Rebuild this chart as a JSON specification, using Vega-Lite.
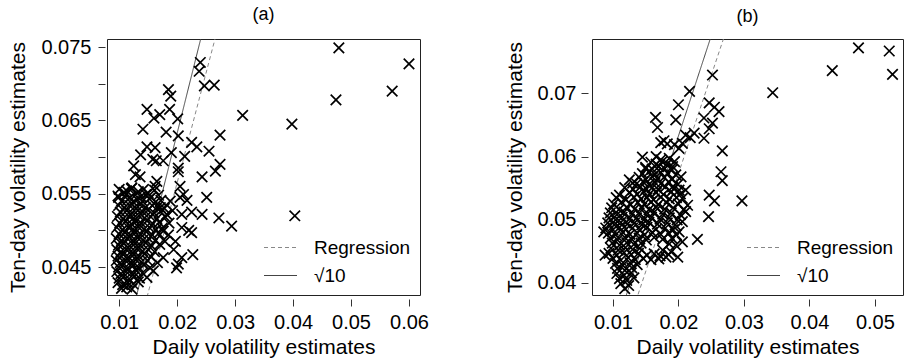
{
"$schema":"https://vega.github.io/schema/vega-lite/v6.json",
"padding":{"left":7,"top":5,"right":0,"bottom":0},
"background":"white",
"config":{
 "font":"Liberation Sans",
 "view":{"stroke":"#222","strokeWidth":1},
 "axis":{"labelFont":"Liberation Sans","titleFont":"Liberation Sans","labelFontSize":20,"titleFontSize":21,"titleFontWeight":"normal","labelColor":"#000","titleColor":"#000","tickColor":"#333","domain":false,"grid":false,"tickSize":7},
 "title":{"font":"Liberation Sans","fontSize":18,"fontWeight":"normal","color":"#000","offset":13},
 "legend":{"labelFont":"Liberation Sans","labelFontSize":19,"labelColor":"#000"}
},
"datasets":{
"a":[
{"x":0.0479,"y":0.0749},{"x":0.0600,"y":0.0727},{"x":0.0571,"y":0.0690},{"x":0.0474,"y":0.0678},{"x":0.0398,"y":0.0645},{"x":0.0403,"y":0.0520},{"x":0.0313,"y":0.0657},{"x":0.0274,"y":0.0630},{"x":0.0294,"y":0.0506},{"x":0.0272,"y":0.0517},{"x":0.0274,"y":0.0590},{"x":0.0266,"y":0.0581},{"x":0.0251,"y":0.0545},{"x":0.0243,"y":0.0573},{"x":0.0243,"y":0.0522},{"x":0.0255,"y":0.0608},{"x":0.0234,"y":0.0614},{"x":0.0225,"y":0.0620},{"x":0.0213,"y":0.0601},{"x":0.0240,"y":0.0729},{"x":0.0238,"y":0.0717},{"x":0.0247,"y":0.0697},{"x":0.0264,"y":0.0698},{"x":0.0185,"y":0.0692},{"x":0.0189,"y":0.0683},{"x":0.0187,"y":0.0665},{"x":0.0201,"y":0.0652},{"x":0.0148,"y":0.0665},{"x":0.0160,"y":0.0653},{"x":0.0170,"y":0.0658},{"x":0.0141,"y":0.0638},{"x":0.0181,"y":0.0634},{"x":0.0202,"y":0.0629},{"x":0.0190,"y":0.0606},{"x":0.0162,"y":0.0613},{"x":0.0148,"y":0.0614},{"x":0.0137,"y":0.0603},{"x":0.0158,"y":0.0597},{"x":0.0164,"y":0.0595},{"x":0.0176,"y":0.0595},{"x":0.0202,"y":0.0585},{"x":0.0202,"y":0.0580},{"x":0.0125,"y":0.0588},{"x":0.0128,"y":0.0576},{"x":0.0136,"y":0.0573},{"x":0.0165,"y":0.0567},{"x":0.0162,"y":0.0560},{"x":0.0205,"y":0.0560},{"x":0.0211,"y":0.0549},{"x":0.0205,"y":0.0545},{"x":0.0217,"y":0.0541},{"x":0.0225,"y":0.0525},{"x":0.0208,"y":0.0522},{"x":0.0208,"y":0.0504},{"x":0.0220,"y":0.0500},{"x":0.0225,"y":0.0497},{"x":0.0197,"y":0.0485},{"x":0.0194,"y":0.0474},{"x":0.0208,"y":0.0463},{"x":0.0202,"y":0.0454},{"x":0.0199,"y":0.0449},{"x":0.0227,"y":0.0467},{"x":0.0176,"y":0.0463},{"x":0.0179,"y":0.0485},{"x":0.0185,"y":0.0494},{"x":0.0176,"y":0.0499},{"x":0.0159,"y":0.0445},{"x":0.0148,"y":0.0436},{"x":0.0099,"y":0.0545},{"x":0.0113,"y":0.0554},{"x":0.0122,"y":0.0558},{"x":0.0188,"y":0.0540},{"x":0.0182,"y":0.0522},{"x":0.0171,"y":0.0531},{"x":0.0186,"y":0.0510},{"x":0.0192,"y":0.0527},
{"x":0.0100,"y":0.0556},{"x":0.0108,"y":0.0552},{"x":0.0121,"y":0.0557},{"x":0.0133,"y":0.0553},{"x":0.0142,"y":0.0556},{"x":0.0150,"y":0.0551},{"x":0.0161,"y":0.0555},
{"x":0.0098,"y":0.0547},{"x":0.0112,"y":0.0549},{"x":0.0119,"y":0.0545},{"x":0.0128,"y":0.0548},{"x":0.0137,"y":0.0546},{"x":0.0146,"y":0.0549},{"x":0.0155,"y":0.0545},{"x":0.0168,"y":0.0548},
{"x":0.0104,"y":0.0540},{"x":0.0115,"y":0.0542},{"x":0.0124,"y":0.0539},{"x":0.0131,"y":0.0542},{"x":0.0140,"y":0.0540},{"x":0.0152,"y":0.0543},{"x":0.0163,"y":0.0539},{"x":0.0172,"y":0.0541},
{"x":0.0099,"y":0.0534},{"x":0.0109,"y":0.0531},{"x":0.0118,"y":0.0534},{"x":0.0127,"y":0.0532},{"x":0.0136,"y":0.0535},{"x":0.0145,"y":0.0531},{"x":0.0157,"y":0.0534},{"x":0.0166,"y":0.0532},{"x":0.0178,"y":0.0530},
{"x":0.0102,"y":0.0525},{"x":0.0113,"y":0.0527},{"x":0.0122,"y":0.0524},{"x":0.0132,"y":0.0527},{"x":0.0141,"y":0.0525},{"x":0.0150,"y":0.0528},{"x":0.0160,"y":0.0524},{"x":0.0171,"y":0.0526},
{"x":0.0097,"y":0.0519},{"x":0.0107,"y":0.0516},{"x":0.0117,"y":0.0519},{"x":0.0125,"y":0.0517},{"x":0.0134,"y":0.0520},{"x":0.0144,"y":0.0517},{"x":0.0154,"y":0.0519},{"x":0.0165,"y":0.0516},{"x":0.0180,"y":0.0518},
{"x":0.0101,"y":0.0510},{"x":0.0111,"y":0.0512},{"x":0.0121,"y":0.0509},{"x":0.0129,"y":0.0512},{"x":0.0138,"y":0.0510},{"x":0.0148,"y":0.0513},{"x":0.0158,"y":0.0509},{"x":0.0169,"y":0.0511},
{"x":0.0096,"y":0.0504},{"x":0.0106,"y":0.0501},{"x":0.0116,"y":0.0504},{"x":0.0124,"y":0.0502},{"x":0.0133,"y":0.0505},{"x":0.0143,"y":0.0502},{"x":0.0152,"y":0.0504},{"x":0.0163,"y":0.0501},{"x":0.0174,"y":0.0503},
{"x":0.0100,"y":0.0495},{"x":0.0110,"y":0.0497},{"x":0.0119,"y":0.0494},{"x":0.0128,"y":0.0497},{"x":0.0137,"y":0.0495},{"x":0.0147,"y":0.0498},{"x":0.0157,"y":0.0494},{"x":0.0168,"y":0.0496},
{"x":0.0095,"y":0.0489},{"x":0.0104,"y":0.0486},{"x":0.0114,"y":0.0489},{"x":0.0123,"y":0.0487},{"x":0.0132,"y":0.0490},{"x":0.0141,"y":0.0487},{"x":0.0151,"y":0.0489},{"x":0.0162,"y":0.0486},
{"x":0.0099,"y":0.0480},{"x":0.0108,"y":0.0482},{"x":0.0118,"y":0.0479},{"x":0.0127,"y":0.0482},{"x":0.0136,"y":0.0480},{"x":0.0146,"y":0.0483},{"x":0.0156,"y":0.0479},{"x":0.0170,"y":0.0481},
{"x":0.0096,"y":0.0474},{"x":0.0103,"y":0.0471},{"x":0.0112,"y":0.0474},{"x":0.0121,"y":0.0472},{"x":0.0131,"y":0.0475},{"x":0.0140,"y":0.0472},{"x":0.0150,"y":0.0474},{"x":0.0161,"y":0.0471},
{"x":0.0098,"y":0.0465},{"x":0.0107,"y":0.0467},{"x":0.0116,"y":0.0464},{"x":0.0125,"y":0.0467},{"x":0.0134,"y":0.0465},{"x":0.0144,"y":0.0468},{"x":0.0155,"y":0.0464},
{"x":0.0095,"y":0.0459},{"x":0.0102,"y":0.0456},{"x":0.0111,"y":0.0459},{"x":0.0120,"y":0.0457},{"x":0.0129,"y":0.0460},{"x":0.0138,"y":0.0457},{"x":0.0149,"y":0.0459},{"x":0.0166,"y":0.0456},
{"x":0.0099,"y":0.0450},{"x":0.0106,"y":0.0452},{"x":0.0115,"y":0.0449},{"x":0.0124,"y":0.0452},{"x":0.0133,"y":0.0450},{"x":0.0143,"y":0.0453},{"x":0.0153,"y":0.0449},
{"x":0.0096,"y":0.0444},{"x":0.0103,"y":0.0441},{"x":0.0112,"y":0.0444},{"x":0.0121,"y":0.0442},{"x":0.0130,"y":0.0445},{"x":0.0140,"y":0.0442},
{"x":0.0100,"y":0.0435},{"x":0.0108,"y":0.0437},{"x":0.0117,"y":0.0434},{"x":0.0126,"y":0.0437},{"x":0.0135,"y":0.0435},
{"x":0.0098,"y":0.0429},{"x":0.0106,"y":0.0426},{"x":0.0115,"y":0.0429},{"x":0.0124,"y":0.0427},{"x":0.0133,"y":0.0430},
{"x":0.0104,"y":0.0421},{"x":0.0113,"y":0.0423},{"x":0.0122,"y":0.0420}
],
"b":[
{"x":0.0475,"y":0.0772},{"x":0.0522,"y":0.0767},{"x":0.0527,"y":0.0730},{"x":0.0435,"y":0.0736},{"x":0.0344,"y":0.0701},{"x":0.0297,"y":0.0530},{"x":0.0252,"y":0.0729},{"x":0.0247,"y":0.0685},{"x":0.0255,"y":0.0678},{"x":0.0262,"y":0.0671},{"x":0.0239,"y":0.0661},{"x":0.0252,"y":0.0653},{"x":0.0247,"y":0.0644},{"x":0.0239,"y":0.0629},{"x":0.0224,"y":0.0637},{"x":0.0267,"y":0.0609},{"x":0.0265,"y":0.0576},{"x":0.0267,"y":0.0562},{"x":0.0247,"y":0.0539},{"x":0.0255,"y":0.0530},{"x":0.0246,"y":0.0505},{"x":0.0229,"y":0.0469},{"x":0.0217,"y":0.0703},{"x":0.0200,"y":0.0682},{"x":0.0196,"y":0.0658},{"x":0.0165,"y":0.0662},{"x":0.0168,"y":0.0646},{"x":0.0178,"y":0.0625},{"x":0.0173,"y":0.0622},{"x":0.0183,"y":0.0620},{"x":0.0211,"y":0.0634},{"x":0.0218,"y":0.0630},{"x":0.0206,"y":0.0621},{"x":0.0201,"y":0.0613},{"x":0.0194,"y":0.0619},{"x":0.0145,"y":0.0599},{"x":0.0150,"y":0.0581},{"x":0.0166,"y":0.0600},{"x":0.0173,"y":0.0595},{"x":0.0186,"y":0.0597},{"x":0.0194,"y":0.0592},{"x":0.0191,"y":0.0584},{"x":0.0204,"y":0.0568},{"x":0.0191,"y":0.0552},{"x":0.0201,"y":0.0547},{"x":0.0211,"y":0.0547},{"x":0.0206,"y":0.0534},{"x":0.0214,"y":0.0523},{"x":0.0211,"y":0.0513},{"x":0.0206,"y":0.0497},{"x":0.0201,"y":0.0481},{"x":0.0206,"y":0.0465},{"x":0.0199,"y":0.0441},{"x":0.0181,"y":0.0441},{"x":0.0189,"y":0.0449},{"x":0.0176,"y":0.0452},{"x":0.0125,"y":0.0563},{"x":0.0130,"y":0.0558},{"x":0.0110,"y":0.0539},{"x":0.0086,"y":0.0481},{"x":0.0088,"y":0.0444},
{"x":0.0158,"y":0.0591},{"x":0.0166,"y":0.0588},{"x":0.0175,"y":0.0592},{"x":0.0183,"y":0.0589},
{"x":0.0150,"y":0.0583},{"x":0.0160,"y":0.0580},{"x":0.0170,"y":0.0584},{"x":0.0179,"y":0.0581},{"x":0.0190,"y":0.0579},
{"x":0.0145,"y":0.0573},{"x":0.0155,"y":0.0576},{"x":0.0164,"y":0.0572},{"x":0.0173,"y":0.0575},{"x":0.0184,"y":0.0573},{"x":0.0196,"y":0.0571},
{"x":0.0140,"y":0.0567},{"x":0.0150,"y":0.0564},{"x":0.0160,"y":0.0568},{"x":0.0168,"y":0.0565},{"x":0.0178,"y":0.0567},{"x":0.0190,"y":0.0564},
{"x":0.0136,"y":0.0557},{"x":0.0146,"y":0.0560},{"x":0.0155,"y":0.0556},{"x":0.0164,"y":0.0559},{"x":0.0173,"y":0.0557},{"x":0.0185,"y":0.0560},{"x":0.0199,"y":0.0556},
{"x":0.0118,"y":0.0551},{"x":0.0131,"y":0.0548},{"x":0.0142,"y":0.0552},{"x":0.0151,"y":0.0549},{"x":0.0160,"y":0.0551},{"x":0.0169,"y":0.0548},{"x":0.0180,"y":0.0552},{"x":0.0193,"y":0.0549},
{"x":0.0125,"y":0.0543},{"x":0.0137,"y":0.0540},{"x":0.0147,"y":0.0544},{"x":0.0156,"y":0.0541},{"x":0.0166,"y":0.0543},{"x":0.0177,"y":0.0540},{"x":0.0189,"y":0.0544},{"x":0.0203,"y":0.0541},
{"x":0.0105,"y":0.0535},{"x":0.0120,"y":0.0532},{"x":0.0132,"y":0.0536},{"x":0.0143,"y":0.0533},{"x":0.0152,"y":0.0535},{"x":0.0162,"y":0.0532},{"x":0.0173,"y":0.0536},{"x":0.0186,"y":0.0533},{"x":0.0197,"y":0.0535},
{"x":0.0101,"y":0.0525},{"x":0.0113,"y":0.0528},{"x":0.0127,"y":0.0524},{"x":0.0138,"y":0.0527},{"x":0.0148,"y":0.0525},{"x":0.0158,"y":0.0528},{"x":0.0169,"y":0.0524},{"x":0.0182,"y":0.0527},{"x":0.0200,"y":0.0525},
{"x":0.0098,"y":0.0519},{"x":0.0109,"y":0.0516},{"x":0.0121,"y":0.0520},{"x":0.0133,"y":0.0517},{"x":0.0144,"y":0.0519},{"x":0.0155,"y":0.0516},{"x":0.0166,"y":0.0520},{"x":0.0179,"y":0.0517},{"x":0.0192,"y":0.0519},{"x":0.0208,"y":0.0516},
{"x":0.0096,"y":0.0511},{"x":0.0106,"y":0.0508},{"x":0.0117,"y":0.0512},{"x":0.0129,"y":0.0509},{"x":0.0140,"y":0.0511},{"x":0.0151,"y":0.0508},{"x":0.0163,"y":0.0512},{"x":0.0176,"y":0.0509},{"x":0.0189,"y":0.0511},{"x":0.0203,"y":0.0508},
{"x":0.0094,"y":0.0503},{"x":0.0104,"y":0.0500},{"x":0.0114,"y":0.0504},{"x":0.0125,"y":0.0501},{"x":0.0136,"y":0.0503},{"x":0.0147,"y":0.0500},{"x":0.0159,"y":0.0504},{"x":0.0172,"y":0.0501},{"x":0.0186,"y":0.0503},{"x":0.0198,"y":0.0500},
{"x":0.0092,"y":0.0495},{"x":0.0102,"y":0.0492},{"x":0.0112,"y":0.0496},{"x":0.0122,"y":0.0493},{"x":0.0133,"y":0.0495},{"x":0.0144,"y":0.0492},{"x":0.0155,"y":0.0496},{"x":0.0168,"y":0.0493},{"x":0.0183,"y":0.0495},{"x":0.0195,"y":0.0492},
{"x":0.0089,"y":0.0487},{"x":0.0100,"y":0.0484},{"x":0.0110,"y":0.0488},{"x":0.0120,"y":0.0485},{"x":0.0130,"y":0.0487},{"x":0.0141,"y":0.0484},{"x":0.0152,"y":0.0488},{"x":0.0166,"y":0.0485},{"x":0.0180,"y":0.0487},{"x":0.0192,"y":0.0484},
{"x":0.0093,"y":0.0479},{"x":0.0104,"y":0.0476},{"x":0.0115,"y":0.0480},{"x":0.0126,"y":0.0477},{"x":0.0137,"y":0.0479},{"x":0.0148,"y":0.0476},{"x":0.0160,"y":0.0480},{"x":0.0173,"y":0.0477},{"x":0.0185,"y":0.0479},{"x":0.0197,"y":0.0476},
{"x":0.0096,"y":0.0471},{"x":0.0107,"y":0.0468},{"x":0.0118,"y":0.0472},{"x":0.0129,"y":0.0469},{"x":0.0140,"y":0.0471},{"x":0.0151,"y":0.0468},{"x":0.0163,"y":0.0472},{"x":0.0176,"y":0.0469},{"x":0.0190,"y":0.0471},
{"x":0.0099,"y":0.0463},{"x":0.0110,"y":0.0460},{"x":0.0121,"y":0.0464},{"x":0.0132,"y":0.0461},{"x":0.0143,"y":0.0463},{"x":0.0186,"y":0.0462},{"x":0.0196,"y":0.0460},
{"x":0.0097,"y":0.0455},{"x":0.0108,"y":0.0452},{"x":0.0119,"y":0.0456},{"x":0.0130,"y":0.0453},{"x":0.0141,"y":0.0455},
{"x":0.0094,"y":0.0447},{"x":0.0106,"y":0.0444},{"x":0.0117,"y":0.0448},{"x":0.0128,"y":0.0445},{"x":0.0139,"y":0.0447},{"x":0.0152,"y":0.0444},{"x":0.0163,"y":0.0446},{"x":0.0172,"y":0.0443},{"x":0.0185,"y":0.0445},
{"x":0.0100,"y":0.0439},{"x":0.0112,"y":0.0436},{"x":0.0123,"y":0.0440},{"x":0.0134,"y":0.0437},{"x":0.0146,"y":0.0439},{"x":0.0158,"y":0.0437},{"x":0.0170,"y":0.0438},
{"x":0.0104,"y":0.0431},{"x":0.0115,"y":0.0428},{"x":0.0126,"y":0.0432},{"x":0.0137,"y":0.0429},
{"x":0.0107,"y":0.0423},{"x":0.0118,"y":0.0420},{"x":0.0129,"y":0.0424},
{"x":0.0106,"y":0.0415},{"x":0.0117,"y":0.0412},{"x":0.0128,"y":0.0416},
{"x":0.0110,"y":0.0407},{"x":0.0121,"y":0.0404},{"x":0.0132,"y":0.0408},
{"x":0.0112,"y":0.0399},{"x":0.0124,"y":0.0396},
{"x":0.0118,"y":0.0391}
],
"la":[
{"s":"Regression","x":0.0145,"y":0.0400},{"s":"Regression","x":0.0275,"y":0.0790},
{"s":"√10","x":0.0125,"y":0.03953},{"s":"√10","x":0.0250,"y":0.07906}
],
"lb":[
{"s":"Regression","x":0.0135,"y":0.03715},{"s":"Regression","x":0.0275,"y":0.08055},
{"s":"√10","x":0.0115,"y":0.03637},{"s":"√10","x":0.0255,"y":0.08064}
]
},
"spacing":74,
"resolve":{"scale":{"strokeDash":"independent","color":"independent"},"legend":{"strokeDash":"independent","color":"independent"}},
"hconcat":[
{
 "width":313,"height":256,
 "title":{"text":"(a)"},
 "layer":[
  {"data":{"name":"la"},"mark":{"type":"line","clip":true,"strokeWidth":1},
   "encoding":{
    "x":{"field":"x","type":"quantitative","scale":{"domain":[0.0079,0.0619],"nice":false,"zero":false},
         "axis":{"values":[0.01,0.02,0.03,0.04,0.05,0.06],"format":".2f","offset":4,"labelPadding":6,"title":"Daily volatility estimates","titlePadding":4}},
    "y":{"field":"y","type":"quantitative","scale":{"domain":[0.0412,0.0761],"nice":false,"zero":false},
         "axis":{"values":[0.045,0.05,0.055,0.06,0.065,0.07,0.075],"labelExpr":"indexof(['0.045','0.055','0.065','0.075'], format(datum.value,'.3f')) >= 0 ? format(datum.value,'.3f') : ''","offset":2,"labelPadding":7,"title":"Ten-day volatility estimates","titlePadding":12}},
    "strokeDash":{"field":"s","type":"nominal","scale":{"domain":["Regression","√10"],"range":[[4,3],[1,0]]},
       "legend":{"title":null,"orient":"bottom-right","offset":9,"symbolType":"stroke","symbolSize":1089,"symbolStrokeWidth":1.2,"labelOffset":16,"rowPadding":-1}},
    "color":{"field":"s","type":"nominal","scale":{"domain":["Regression","√10"],"range":["#888888","#444444"]}}
   }},
  {"data":{"name":"a"},"mark":{"type":"point","shape":"M-1,-1L1,1M-1,1L1,-1","size":110,"strokeWidth":1.7,"color":"#000","filled":false,"opacity":1},
   "encoding":{"x":{"field":"x","type":"quantitative"},"y":{"field":"y","type":"quantitative"}}}
 ]
},
{
 "width":311,"height":256,
 "title":{"text":"(b)"},
 "layer":[
  {"data":{"name":"lb"},"mark":{"type":"line","clip":true,"strokeWidth":1},
   "encoding":{
    "x":{"field":"x","type":"quantitative","scale":{"domain":[0.0068,0.0543],"nice":false,"zero":false},
         "axis":{"values":[0.01,0.02,0.03,0.04,0.05],"format":".2f","offset":4,"labelPadding":6,"title":"Daily volatility estimates","titlePadding":4}},
    "y":{"field":"y","type":"quantitative","scale":{"domain":[0.0381,0.0786],"nice":false,"zero":false},
         "axis":{"values":[0.04,0.05,0.06,0.07],"format":".2f","offset":4,"labelPadding":5,"title":"Ten-day volatility estimates","titlePadding":12}},
    "strokeDash":{"field":"s","type":"nominal","scale":{"domain":["Regression","√10"],"range":[[4,3],[1,0]]},
       "legend":{"title":null,"orient":"bottom-right","offset":9,"symbolType":"stroke","symbolSize":1089,"symbolStrokeWidth":1.2,"labelOffset":16,"rowPadding":-1}},
    "color":{"field":"s","type":"nominal","scale":{"domain":["Regression","√10"],"range":["#888888","#444444"]}}
   }},
  {"data":{"name":"b"},"mark":{"type":"point","shape":"M-1,-1L1,1M-1,1L1,-1","size":110,"strokeWidth":1.7,"color":"#000","filled":false,"opacity":1},
   "encoding":{"x":{"field":"x","type":"quantitative"},"y":{"field":"y","type":"quantitative"}}}
 ]
}
]
}
